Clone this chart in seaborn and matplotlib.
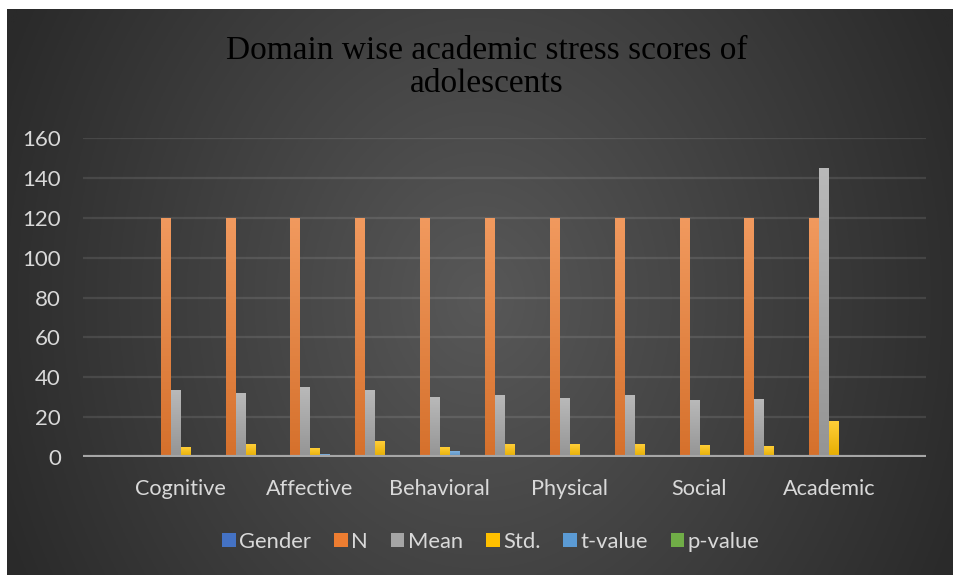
import numpy as np
import pandas as pd
import matplotlib
matplotlib.use("Agg")
import matplotlib.pyplot as plt
import matplotlib.colors as mcolors
import seaborn as sns

# ---------------- data ----------------
groups = ["start", "Cognitive M", "Cognitive F", "Affective M", "Affective F",
          "Behavioral M", "Behavioral F", "Physical M", "Physical F",
          "Social M", "Social F", "Academic", "end"]
tick_labels = ["", "Cognitive", "", "Affective", "", "Behavioral", "",
               "Physical", "", "Social", "", "Academic", ""]
series = ["Gender", "N", "Mean", "Std.", "t-value", "p-value"]
gender = [0, 0, 0, 0, 0, 0, 0, 0, 0, 0, 0, 0, 0]
n_vals = [0, 120, 120, 120, 120, 120, 120, 120, 120, 120, 120, 120, 0]
mean_vals = [0, 33.5, 32, 35, 33.5, 30, 31, 29.5, 31, 28.5, 29, 145, 0]
std_vals = [0, 5, 6.5, 4.5, 8, 5, 6.5, 6.5, 6.5, 6, 5.5, 18, 0]
t_vals = [0, 0.6, 0, 1.5, 0, 3, 0, 0.4, 0, 1, 0, 1, 0]
p_vals = [0, 0.3, 0, 0.2, 0, 0.1, 0, 0.5, 0, 0.3, 0, 0.3, 0]
yticks = [0, 20, 40, 60, 80, 100, 120, 140, 160]
colors = ["#4472C4", "#ED7D31", "#A5A5A5", "#FFC000", "#5B9BD5", "#70AD47"]

rows = []
for s, vals in zip(series, [gender, n_vals, mean_vals, std_vals, t_vals, p_vals]):
    for g, v in zip(groups, vals):
        rows.append({"group": g, "series": s, "value": v})
df = pd.DataFrame(rows)

# ---------------- figure ----------------
sns.set_theme(style="white")
plt.rcParams["font.family"] = ["Lato", "DejaVu Sans"]
W, H = 954, 575
fig = plt.figure(figsize=(W / 100, H / 100), dpi=100)
fig.patch.set_facecolor("white")

# background radial gradient (dark area starts at x=7, y=9)
bg = fig.add_axes([7 / W, 0, 1 - 7 / W, 1 - 9 / H], zorder=-10)
xx, yy = np.meshgrid(np.linspace(7, W, 400), np.linspace(9, H, 300))
r = np.sqrt(((xx - 480) / 520) ** 2 + ((yy - 300) / 620) ** 2)
r = np.clip(r, 0, 1)
lv = (0x58 + (0x2a - 0x58) * r) / 255.0
img = np.dstack([lv, lv, lv])
bg.imshow(img, extent=[0, 1, 0, 1], origin="upper", aspect="auto")
bg.set_axis_off()

ax = fig.add_axes([83 / W, 1 - 457 / H, (926 - 83) / W, (457 - 138) / H])
ax.set_facecolor("none")

sns.barplot(data=df, x="group", y="value", hue="series", order=groups,
            hue_order=series, palette=colors, width=0.926, gap=0.1,
            saturation=1, errorbar=None, ax=ax, zorder=2, linewidth=0)

# gradient on bars
for cont, col in zip(ax.containers, colors):
    base = np.array(mcolors.to_rgb(col))
    top = base + (1 - base) * 0.22
    bot = base * 0.9
    t = np.linspace(0, 1, 64)[:, None]
    grad = top[None, :] * (1 - t) + bot[None, :] * t
    grad = grad[:, None, :]
    for p in cont.patches:
        h = p.get_height()
        if h <= 0:
            continue
        x0 = p.get_x()
        w = p.get_width()
        im = ax.imshow(grad, extent=[x0, x0 + w, 0, h], origin="upper",
                       aspect="auto", zorder=2.1)
        im.set_clip_path(p)

ax.set_xlim(-0.5, len(groups) - 0.5)
ax.set_ylim(0, 160)
ax.set_yticks(yticks)
ax.set_yticklabels([str(v) for v in yticks])
ax.set_xticks(range(len(groups)))
ax.set_xticklabels(tick_labels)
ax.set_xlabel("")
ax.set_ylabel("")
for s in ax.spines.values():
    s.set_visible(False)
for v in yticks[1:]:
    ax.axhline(v, color="white", alpha=0.1, lw=1.6, zorder=1)
ax.axhline(0, color="#a6a6a6", lw=3, zorder=3)
ax.tick_params(axis="y", length=0, pad=16, labelsize=16, labelcolor="#d9d9d9")
ax.tick_params(axis="x", length=0, pad=16, labelsize=15.6, labelcolor="#d9d9d9")

handles, labels = ax.get_legend_handles_labels()
if ax.get_legend() is not None:
    ax.get_legend().remove()
fig.legend(handles, labels, loc="center", bbox_to_anchor=(491 / W, 1 - 542 / H),
           ncol=6, frameon=False, fontsize=15.8, labelcolor="#d9d9d9",
           handlelength=0.62, handleheight=0.62, handletextpad=0.15,
           columnspacing=1.05)

fig.text(487 / W, 1 - 67 / H, "Domain wise academic stress scores of\nadolescents",
         ha="center", va="center", color="black", fontsize=24,
         family=["Liberation Serif", "DejaVu Serif"], linespacing=1.12)

fig.savefig("out.png", dpi=100)
